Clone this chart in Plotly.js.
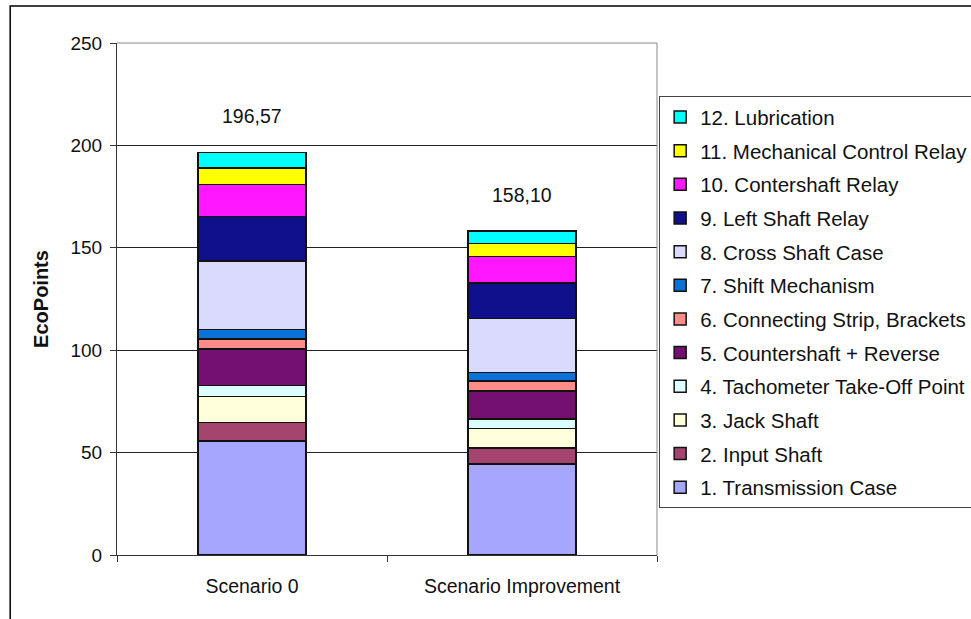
<!DOCTYPE html>
<html><head><meta charset="utf-8">
<script src="https://cdn.plot.ly/plotly-3.0.1.min.js"></script>
<style>html,body{margin:0;padding:0;background:#fff;}#chart{width:971px;height:619px;}</style>
</head><body><div id="chart"></div>
<script>
const categories = ["Scenario 0", "Scenario Improvement"];
const seriesNames = [
  "1. Transmission Case", "2. Input Shaft", "3. Jack Shaft", "4. Tachometer Take-Off Point",
  "5. Countershaft + Reverse", "6. Connecting Strip, Brackets", "7. Shift Mechanism",
  "8. Cross Shaft Case", "9. Left Shaft Relay", "10. Contershaft Relay",
  "11. Mechanical Control Relay", "12. Lubrication"
];
const scenario0 = [55.7, 9.1, 12.5, 5.4, 17.9, 4.9, 4.5, 33.6, 21.6, 15.6, 8.2, 7.57];
const scenarioImprovement = [44.4, 7.8, 9.5, 4.7, 13.8, 4.8, 4.0, 26.4, 17.3, 13.0, 6.3, 6.1];
const totalLabels = ["196,57", "158,10"];
const colors = ["#A6A6FF", "#A5446F", "#FFFFDC", "#DCFFFF", "#741070", "#FF8C88",
  "#0A72D8", "#DADAFF", "#10108C", "#FF18FF", "#FFFF00", "#00FFFF"];

const FONT = "Liberation Sans";
const n = seriesNames.length;
const traces = seriesNames.map((name, i) => ({
  type: "bar", name: name, x: categories, y: [scenario0[i], scenarioImprovement[i]],
  marker: {color: colors[i], line: {color: "#111", width: 1.5}},
  width: 0.4, legendgroup: "g" + i, legendrank: n - i, hoverinfo: "y+name"
}));

const totals = [scenario0.reduce((a, b) => a + b, 0), scenarioImprovement.reduce((a, b) => a + b, 0)];
const annotations = categories.map((c, i) => ({
  x: c, y: totals[i], xref: "x", yref: "y", text: totalLabels[i], showarrow: false,
  yshift: 36, font: {family: FONT, size: 19.5, color: "#111"}
}));

const layout = {
  width: 971, height: 619,
  margin: {l: 117, r: 314, t: 43, b: 64, autoexpand: false},
  paper_bgcolor: "#fff", plot_bgcolor: "#fff",
  barmode: "stack", bargap: 0.6,
  font: {family: FONT, size: 19, color: "#111"},
  xaxis: {
    type: "category", showline: true, linecolor: "#333", linewidth: 1,
    ticks: "outside", tickson: "boundaries", ticklen: 6, tickcolor: "#333",
    tickfont: {size: 19.5}, ticklabelstandoff: 14, showgrid: false, zeroline: false
  },
  yaxis: {
    range: [0, 250], dtick: 50, showline: true, linecolor: "#333", linewidth: 1,
    ticks: "outside", ticklen: 6, tickcolor: "#333", tickfont: {size: 19},
    ticklabelstandoff: 4,
    showgrid: true, gridcolor: "#222", gridwidth: 1, zeroline: false,
    title: {text: "EcoPoints", font: {size: 20, weight: "bold"}, standoff: 16}
  },
  legend: {
    x: 1.004, y: 0.896, xanchor: "left", yanchor: "top",
    traceorder: "grouped", tracegroupgap: 4,
    bordercolor: "#444", borderwidth: 1, bgcolor: "#fff",
    font: {size: 20.5}, itemwidth: 30
  },
  annotations: annotations,
  shapes: [
    {type: "line", xref: "paper", yref: "paper", x0: 1, x1: 1, y0: 0, y1: 1, line: {color: "#888", width: 1}},
    {type: "line", xref: "paper", yref: "paper", x0: 0, x1: 1, y0: 1, y1: 1, line: {color: "#888", width: 1}},
    {type: "rect", xref: "paper", yref: "paper", x0: -0.1978, x1: 1.75, y0: -0.16, y1: 1.0723, line: {color: "#000", width: 1.5}, layer: "below"}
  ],
  showlegend: true
};
Plotly.newPlot("chart", traces, layout, {displayModeBar: false, staticPlot: true});
</script></body></html>
